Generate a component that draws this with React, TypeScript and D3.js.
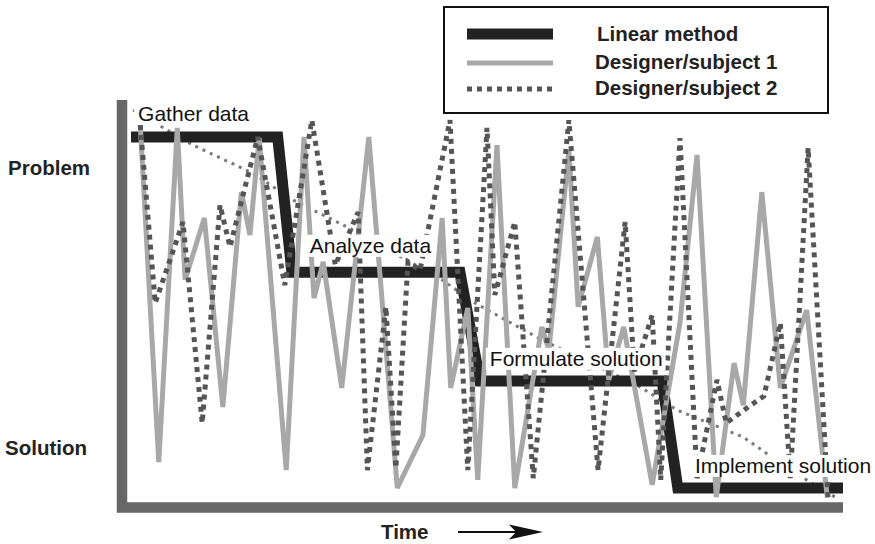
import { useEffect, useRef } from 'react';
import * as d3 from 'd3';

const WIDTH = 875;
const HEIGHT = 544;
const FONT = '"Liberation Sans", Arial, Helvetica, sans-serif';

// time runs 0 -> 100, state runs 100 (problem) -> 0 (solution)
const linearTime = [0, 20.6, 22.6, 46.2, 49, 74.6, 76.8, 100];
const linearState = [100, 100, 61.5, 61.5, 30.5, 30.5, 0, 0];

const subject1Time = [
  1.3, 3.9, 6.5, 7.6, 10.3, 12.9, 15.5, 16.7, 18.0, 21.8, 24.3, 25.7, 27.0, 29.6,
  33.4, 37.4, 41.0, 43.7, 44.9, 47.3, 48.7, 51.4, 53.9, 57.7, 58.7, 61.5, 62.8,
  65.5, 67.1, 69.2, 73.2, 77.1, 79.5, 82.2, 84.7, 86.0, 88.6, 91.2, 94.9, 97.8,
];
const subject1State = [
  103.4, 7.4, 102.6, 59.3, 76.9, 23.1, 84.3, 72.1, 99.7, 5.1, 100, 54.1, 64.4, 28.5,
  100, 0, 15.1, 76.9, 28.5, 51.3, 2.3, 97.7, 0, 45.9, 39.3, 96.3, 51.6,
  71.5, 30.8, 45.9, 0.9, 47.0, 94.9, -2.6, 35.6, 23.6, 84.3, 28.5, 50.7, -2.8,
];

const subject2Time = [
  1.3, 3.4, 7.3, 10.0, 12.5, 13.9, 17.8, 21.6, 25.4, 28.7, 31.9, 33.2, 35.8, 37.2,
  38.9, 40.6, 44.8, 47.3, 50.0, 51.1, 53.9, 56.5, 61.5, 65.6, 69.4, 70.7, 73.2,
  74.4, 77.1, 79.5, 82.3, 83.6, 86.5, 88.9, 91.2, 92.6, 95.1, 97.9,
];
const subject2State = [
  103.4, 52.7, 75.8, 18.5, 80.6, 68.7, 100, 57.8, 104.8, 63.5, 78.6, 5.1, 51.6, 5.7,
  64.4, 62.1, 104.8, 5.1, 102.6, 55.0, 75.8, 2.8, 104.8, 5.1, 75.8, 33.0, 49.3,
  2.3, 99.7, 2.8, 30.8, 18.5, 22.8, 26.2, 47.0, 2.8, 96.9, -2.8,
];

const trendTime = [0.3, 8.7, 17.1, 22.8, 31.2, 43.7, 48.3, 57.7, 71.1, 76.7, 86.0, 92.6, 98.9];
const trendState = [107.7, 97.7, 89.7, 82.0, 73.5, 59.3, 52.7, 42.2, 29.3, 22.2, 14.5, 5.1, -2.6];

const stageNames = ['Gather data', 'Analyze data', 'Formulate solution', 'Implement solution'];
const stageTime = [1.0, 25.1, 50.4, 79.2];
const stageState = [104.6, 67.0, 34.8, 4.3];

const legendNames = ['Linear method', 'Designer/subject 1', 'Designer/subject 2'];

const STYLES = [
  { color: '#222222', width: 11, dash: null as string | null },
  { color: '#a8a8a8', width: 5, dash: null as string | null },
  { color: '#555555', width: 5, dash: '5,5' },
];

function zip(xs: number[], ys: number[]): [number, number][] {
  return xs.map((x, i) => [x, ys[i]]);
}

export default function App() {
  const svgRef = useRef<SVGSVGElement>(null);

  useEffect(() => {
    if (!svgRef.current) return;
    const svg = d3.select(svgRef.current);
    svg.selectAll('*').remove();

    const x = d3.scaleLinear().domain([0, 100]).range([131, 843]);
    const y = d3.scaleLinear().domain([0, 100]).range([488, 137]);

    const line = d3
      .line<[number, number]>()
      .x((d) => x(d[0]))
      .y((d) => y(d[1]));

    // axes (thick gray L)
    svg
      .append('path')
      .attr('d', `M${x(0) - 9},${y(100) - 37} V${y(0) + 19.5} H${x(100)}`)
      .attr('fill', 'none')
      .attr('stroke', '#676767')
      .attr('stroke-width', 10.5);

    // thin dotted trend
    svg
      .append('path')
      .attr('d', line(zip(trendTime, trendState)))
      .attr('fill', 'none')
      .attr('stroke', '#7a7a7a')
      .attr('stroke-width', 3)
      .attr('stroke-dasharray', '3,5');

    const series = [
      zip(linearTime, linearState),
      zip(subject1Time, subject1State),
      zip(subject2Time, subject2State),
    ];
    series.forEach((s, i) => {
      const st = STYLES[i];
      const p = svg
        .append('path')
        .attr('d', line(s))
        .attr('fill', 'none')
        .attr('stroke', st.color)
        .attr('stroke-width', st.width)
        .attr('stroke-linejoin', 'miter')
        .attr('stroke-miterlimit', 3);
      if (st.dash) p.attr('stroke-dasharray', st.dash);
    });

    // stage labels with white boxes
    stageNames.forEach((name, i) => {
      const g = svg.append('g');
      const rect = g.append('rect').attr('fill', '#fff');
      const t = g
        .append('text')
        .attr('x', x(stageTime[i]))
        .attr('y', y(stageState[i]))
        .attr('font-family', FONT)
        .attr('font-size', 21)
        .attr('fill', '#111')
        .text(name);
      const bb = (t.node() as SVGTextElement).getBBox();
      rect
        .attr('x', bb.x - 4)
        .attr('y', bb.y + 1)
        .attr('width', bb.width + 7)
        .attr('height', bb.height - 1);
    });

    // legend
    const lg = svg.append('g');
    lg.append('rect')
      .attr('x', 444)
      .attr('y', 7)
      .attr('width', 384)
      .attr('height', 106)
      .attr('fill', '#fff')
      .attr('stroke', '#111')
      .attr('stroke-width', 2);
    const rowY = [34, 63, 89];
    const textY = [41, 69, 95];
    const textX = [597, 595, 595];
    legendNames.forEach((name, i) => {
      const st = STYLES[i];
      const l = lg
        .append('line')
        .attr('x1', 467)
        .attr('x2', 553)
        .attr('y1', rowY[i])
        .attr('y2', rowY[i])
        .attr('stroke', st.color)
        .attr('stroke-width', st.width);
      if (st.dash) l.attr('stroke-dasharray', st.dash);
      lg.append('text')
        .attr('x', textX[i])
        .attr('y', textY[i])
        .attr('font-family', FONT)
        .attr('font-size', 20.5)
        .attr('font-weight', 'bold')
        .attr('fill', '#222')
        .text(name);
    });

    // axis titles
    const bold = (tx: number, ty: number, s: string) =>
      svg
        .append('text')
        .attr('x', tx)
        .attr('y', ty)
        .attr('font-family', FONT)
        .attr('font-size', 20.5)
        .attr('font-weight', 'bold')
        .attr('fill', '#222')
        .text(s);
    bold(8, 175, 'Problem');
    bold(5, 455, 'Solution');
    bold(381, 539, 'Time');

    // time arrow
    svg
      .append('line')
      .attr('x1', 458)
      .attr('x2', 520)
      .attr('y1', 532)
      .attr('y2', 532)
      .attr('stroke', '#111')
      .attr('stroke-width', 2);
    svg
      .append('path')
      .attr('d', 'M543,532 L509,524.5 L516,532 L509,539.5 Z')
      .attr('fill', '#111');
  }, []);

  return (
    <svg
      ref={svgRef}
      width={WIDTH}
      height={HEIGHT}
      style={{ position: 'absolute', left: 0, top: 0, background: '#fff' }}
    />
  );
}
